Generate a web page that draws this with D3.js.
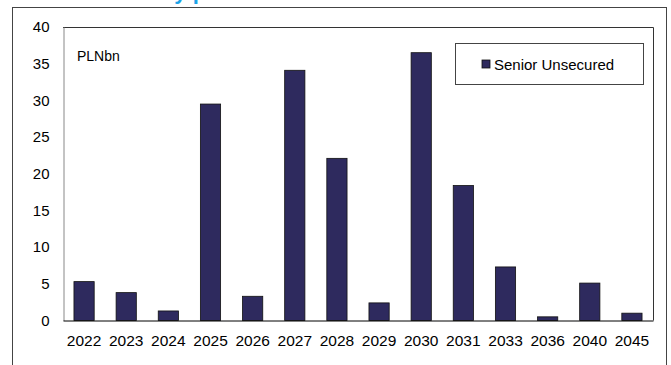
<!DOCTYPE html>
<html><head><meta charset="utf-8">
<script src="https://cdn.jsdelivr.net/npm/d3@7"></script>
<style>body{margin:0;background:#fff}svg{display:block}text{font-family:"Liberation Sans",Arial,sans-serif}</style>
</head><body>
<svg id="c" width="671" height="365"></svg>
<script>
const categories = ["2022","2023","2024","2025","2026","2027","2028","2029","2030","2031","2033","2036","2040","2045"];
const seniorUnsecured = [5.3,3.8,1.3,29.5,3.3,34.1,22.1,2.4,36.5,18.4,7.3,0.5,5.1,1.0];
const yTicks = [0,5,10,15,20,25,30,35,40];
const seriesName = "Senior Unsecured";
const unitLabel = "PLNbn";
const titleText = "Maturity profile";

const svg = d3.select("#c");
const m = {l:63, r:653, t:27, b:320.5};
const x = d3.scaleBand().domain(categories).range([m.l, m.r]).paddingInner(0.52).paddingOuter(0.26);
const y = d3.scaleLinear().domain([0,40]).range([m.b, m.t]);

// title (cropped at top, as in the reference)
svg.append("text").attr("x",101).attr("y",-1).attr("font-size",22).attr("font-weight","bold")
  .attr("fill","#1aa3e8").text(titleText);

// outer frame
svg.append("rect").attr("x",12.5).attr("y",7.5).attr("width",654).attr("height",400)
  .attr("fill","none").attr("stroke","#444").attr("stroke-width",1);

// plot border top/right
svg.append("path").attr("d",`M${m.l},${m.t+0.5}H${m.r+0.5}V${m.b}`).attr("fill","none").attr("stroke","#333");

// bars
svg.append("g").selectAll("rect").data(seniorUnsecured).join("rect")
  .attr("x",(d,i)=>x(categories[i])).attr("width",x.bandwidth())
  .attr("y",d=>y(d)).attr("height",d=>y(0)-y(d))
  .attr("fill","#2e2a5e").attr("stroke","#111").attr("stroke-width",0.8);

// y axis
const ya = svg.append("g").attr("transform",`translate(${m.l+0.5},0)`)
  .call(d3.axisLeft(y).tickValues(yTicks).tickSize(0).tickPadding(14));
ya.select(".domain").attr("stroke","#888");
ya.selectAll("text").attr("font-size",15).attr("fill","#000").attr("font-family",'"Liberation Sans",Arial,sans-serif');

// x axis
const xa = svg.append("g").attr("transform",`translate(0,${m.b})`)
  .call(d3.axisBottom(x).tickSize(0).tickPadding(14.5));
xa.select(".domain").attr("stroke","#000");
xa.selectAll("text").attr("font-size",15.5).attr("fill","#000").attr("font-family",'"Liberation Sans",Arial,sans-serif');

// unit label
svg.append("text").attr("x",77).attr("y",60.5).attr("font-size",14).text(unitLabel);

// legend
svg.append("rect").attr("x",455.5).attr("y",43.5).attr("width",188).attr("height",41)
  .attr("fill","#fff").attr("stroke","#444");
svg.append("rect").attr("x",482).attr("y",60).attr("width",8).attr("height",8)
  .attr("fill","#2e2a5e").attr("stroke","#111").attr("stroke-width",0.8);
svg.append("text").attr("x",494).attr("y",69.5).attr("font-size",15).text(seriesName);
</script>
</body></html>
